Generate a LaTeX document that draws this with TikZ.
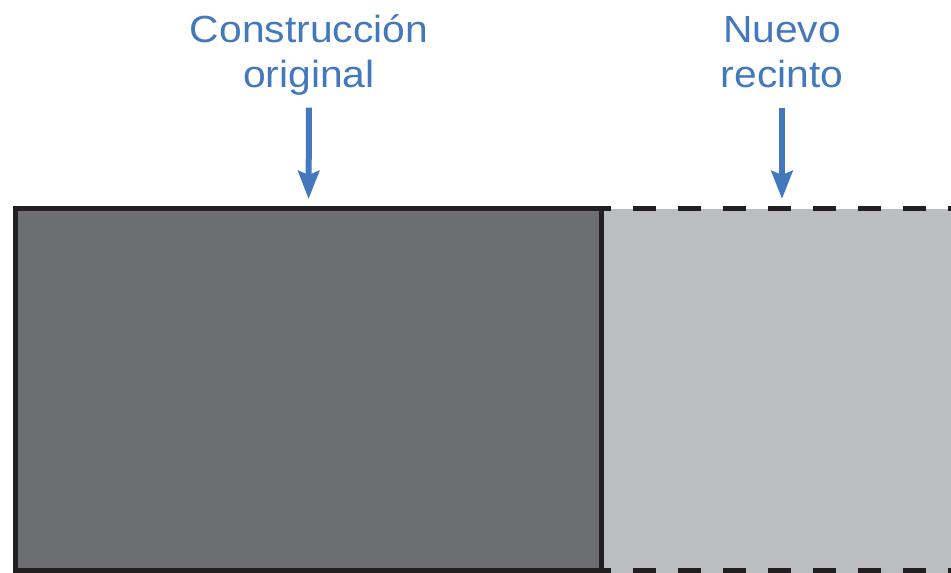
\documentclass[tikz,border=0pt]{standalone}
\usepackage{fontspec}
\setmainfont[FakeStretch=1.08]{Liberation Sans}
\usetikzlibrary{arrows.meta}
\definecolor{oldgray}{HTML}{6D6E71}
\definecolor{newgray}{HTML}{BCBDC0}
\definecolor{wallblack}{HTML}{231F20}
\definecolor{labelblue}{HTML}{4478BE}
\begin{document}
\begin{tikzpicture}[x=0.02cm, y=-0.02cm,
	labeltext/.style={text=labelblue, font=\fontsize{21.5}{25.6}\selectfont, align=center, inner sep=0pt, anchor=base},
	pointer/.style={draw=labelblue, line width=0.12cm, -{Stealth[length=0.56cm, width=0.42cm, inset=0.08cm]}},
	wall/.style={draw=wallblack, line width=0.11cm},
	newwall/.style={wall, dash pattern=on 0.46cm off 0.44cm, dash phase=0.27cm}]
	\useasboundingbox (0,0) rectangle (951,572);

	% annex first, so the old wall lies on top of it
	\node[fill=newgray, inner sep=0pt, outer sep=0pt, minimum width=7.22cm, minimum height=7.31cm, anchor=north west] (annex) at (601.5,208.5) {};
	\node[wall, fill=oldgray, inner sep=0pt, outer sep=0pt, minimum width=11.72cm, minimum height=7.24cm, anchor=north east] (old) at (annex.north west) {};

	\draw[newwall] (old.north east) -- (annex.north east);
	\draw[newwall] (old.south east) -- (old.south east -| annex.east);

	\node[labeltext] (orig) at (309,87) {Construcción\\original};
	\node[labeltext] (new) at (782,87) {Nuevo\\recinto};

	\draw[pointer, shorten <=0.25cm, shorten >=0.19cm] (orig.south) -- (old.north);
	\draw[pointer, shorten <=0.4cm, shorten >=0.19cm] (new.south) -- (new.south |- annex.north);
\end{tikzpicture}
\end{document}
